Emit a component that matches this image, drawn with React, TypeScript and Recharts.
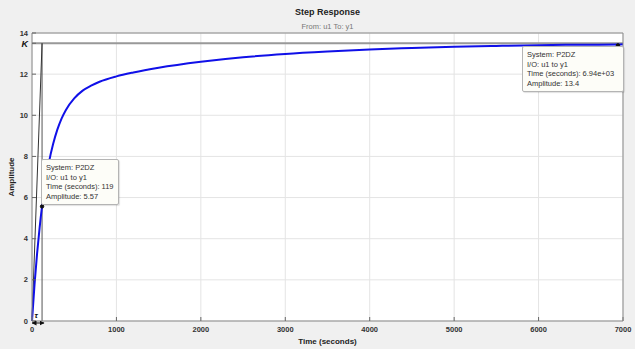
import React from "react";
import {
  LineChart, Line, XAxis, YAxis, CartesianGrid, ReferenceLine, ReferenceDot,
} from "recharts";

// step response samples
const time = [0, 30, 60, 90, 119, 150, 200, 250, 300, 350, 400, 500, 600, 700, 800, 1000, 1200, 1500, 2000, 2500, 3000, 3500, 4000, 4500, 5000, 5500, 6000, 6500, 6940, 7000];
const amplitude = [0, 1.78, 3.27, 4.53, 5.57, 6.5, 7.7, 8.6, 9.3, 9.84, 10.25, 10.82, 11.2, 11.44, 11.63, 11.89, 12.08, 12.31, 12.6, 12.82, 12.98, 13.1, 13.2, 13.27, 13.33, 13.37, 13.41, 13.43, 13.44, 13.45];

const xTicks = [0, 1000, 2000, 3000, 4000, 5000, 6000, 7000];
const yTicks = [0, 2, 4, 6, 8, 10, 12, 13.5, 14];

const K = 13.5;
const tau = 119;

const tips = [
  { t: 119, a: 5.57, lines: ["System: P2DZ", "I/O: u1 to y1", "Time (seconds): 119", "Amplitude: 5.57"] },
  { t: 6940, a: 13.4, lines: ["System: P2DZ", "I/O: u1 to y1", "Time (seconds): 6.94e+03", "Amplitude: 13.4"] },
];

const data = time.map((t, i) => ({ t, y: amplitude[i] }));

const FONT = "'Liberation Sans', Arial, sans-serif";
const tickStyle = { fontSize: 7.5, fill: "#333", fontWeight: 700, fontFamily: FONT };

function YTick(props: any) {
  const { x, y, payload } = props;
  const isK = payload.value === K;
  return (
    <text
      x={x} y={y} dy={isK ? "0.4em" : "0.35em"} textAnchor="end"
      fontSize={isK ? 9 : 7.5} fontWeight={700} fontStyle={isK ? "italic" : "normal"}
      fill={isK ? "#111" : "#333"} fontFamily={FONT}
    >
      {isK ? "K" : payload.value}
    </text>
  );
}

function TipBox({ left, top, width, lines }: { left: number; top: number; width: number; lines: string[] }) {
  return (
    <div style={{
      position: "absolute", left, top, width, boxSizing: "border-box",
      background: "#fdfdf8", border: "1px solid #b4b4b4", borderRadius: 2,
      padding: "3px 4px", fontFamily: FONT, fontSize: 7.5, lineHeight: "9.5px", color: "#333",
      whiteSpace: "nowrap", boxShadow: "1px 1px 1px rgba(0,0,0,0.12)",
    }}>
      {lines.map((l) => <div key={l}>{l}</div>)}
    </div>
  );
}

export default function App() {
  return (
    <div style={{ position: "relative", width: 635, height: 349, background: "#f0f0f0", fontFamily: FONT }}>
      <style>{`body{margin:0}`}</style>
      <div style={{ position: "absolute", left: 0, width: 655, top: 7, textAlign: "center", fontSize: 9, fontWeight: 700, color: "#222" }}>
        Step Response
      </div>
      <div style={{ position: "absolute", left: 0, width: 655, top: 22, textAlign: "center", fontSize: 7.5, color: "#777" }}>
        From: u1  To: y1
      </div>
      <LineChart
        width={635} height={349} data={data}
        margin={{ top: 32, right: 11, bottom: 0, left: 0 }}
        style={{ position: "absolute", left: 0, top: 0 }}
      >
        <CartesianGrid stroke="#e4e4e4" strokeWidth={1} fill="#fff" />
        <XAxis
          dataKey="t" type="number" domain={[0, 7000]} ticks={xTicks} height={28}
          tick={tickStyle} tickSize={-4} tickMargin={10}
          axisLine={{ stroke: "#8a8a8a" }} tickLine={{ stroke: "#666" }}
          label={{ value: "Time (seconds)", position: "insideBottom", offset: 5, style: { fontSize: 8, fontWeight: 700, fill: "#222", fontFamily: FONT } }}
        />
        <XAxis
          xAxisId="top" orientation="top" dataKey="t" type="number" domain={[0, 7000]} ticks={xTicks} height={1}
          tick={false} tickSize={-4} axisLine={{ stroke: "#8a8a8a" }} tickLine={{ stroke: "#666" }}
        />
        <YAxis
          type="number" domain={[0, 14]} ticks={yTicks} width={32} interval={0}
          tick={<YTick />} tickSize={-4} tickMargin={8}
          axisLine={{ stroke: "#8a8a8a" }} tickLine={{ stroke: "#666" }}
          label={{ value: "Amplitude", angle: -90, position: "insideLeft", offset: 11, style: { textAnchor: "middle", fontSize: 8, fontWeight: 700, fill: "#222", fontFamily: FONT } }}
        />
        <YAxis
          yAxisId="right" orientation="right" type="number" domain={[0, 14]} ticks={yTicks.filter((v) => v !== K)} width={1}
          tick={false} tickSize={-4} axisLine={{ stroke: "#8a8a8a" }} tickLine={{ stroke: "#666" }}
        />
        <ReferenceLine y={K} stroke="#999" strokeWidth={2} />
        <ReferenceLine segment={[{ x: tau, y: 0 }, { x: tau, y: K }]} stroke="#555" strokeWidth={1} />
        <ReferenceLine segment={[{ x: 0, y: 0 }, { x: tau, y: K }]} stroke="#333" strokeWidth={1} />
        <Line
          type="monotone" dataKey="y" stroke="#1010e8" strokeWidth={2}
          dot={false} activeDot={false} isAnimationActive={false}
        />
        {tips.map((tp) => (
          <ReferenceDot key={tp.t} x={tp.t} y={tp.a} r={1.7} fill="#111" stroke="#111" />
        ))}
      </LineChart>
      <svg width={635} height={349} style={{ position: "absolute", left: 0, top: 0, pointerEvents: "none" }}>
        <defs>
          <marker id="ah" markerWidth="5" markerHeight="5" refX="4.5" refY="2.5" orient="auto-start-reverse">
            <path d="M0,0 L5,2.5 L0,5 z" fill="#111" />
          </marker>
        </defs>
        <line x1={32} y1={323} x2={44} y2={323} stroke="#111" strokeWidth={1} markerStart="url(#ah)" markerEnd="url(#ah)" />
        <text x={34.5} y={318} fontSize={8} fontStyle="italic" fontWeight={700} fill="#111" fontFamily={FONT}>τ</text>
      </svg>
      <TipBox left={41} top={159} width={78} lines={tips[0].lines} />
      <TipBox left={522} top={46} width={102} lines={tips[1].lines} />
    </div>
  );
}
